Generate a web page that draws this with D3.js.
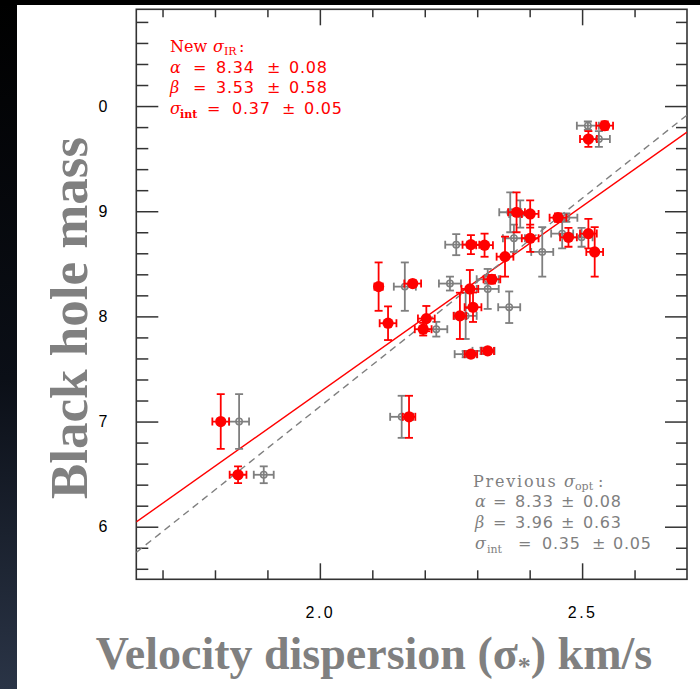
<!DOCTYPE html>
<html>
<head>
<meta charset="utf-8">
<script src="https://cdn.jsdelivr.net/npm/d3@7"></script>
<style>
  html, body { margin: 0; padding: 0; background: #fff; }
  svg { display: block; }
</style>
</head>
<body>
<svg id="chart" width="700" height="689"></svg>
<script>
// New infrared dispersions: log sigma, log M_BH and their errors
const irSigma    = [2.543, 2.512, 2.375, 2.401, 2.454, 2.401, 2.474, 2.512, 2.524, 2.288, 2.314, 2.353, 2.112, 2.177, 2.286, 2.328, 2.292, 2.267, 2.203, 2.197, 2.130, 2.288, 2.320, 2.170, 1.811, 1.844];
const irSigmaErr = [0.016, 0.016, 0.016, 0.016, 0.016, 0.016, 0.016, 0.016, 0.016, 0.016, 0.016, 0.016, 0.008, 0.016, 0.016, 0.016, 0.016, 0.012, 0.016, 0.016, 0.016, 0.012, 0.012, 0.012, 0.016, 0.016];
const irMass     = [9.813, 9.686, 8.990, 8.974, 8.939, 8.743, 8.752, 8.787, 8.613, 8.682, 8.677, 8.568, 8.283, 8.312, 8.261, 8.353, 8.087, 8.005, 7.979, 7.878, 7.935, 7.641, 7.672, 7.045, 7.000, 6.494];
const irMassErr  = [0.04, 0.075, 0.19, 0.13, 0.04, 0.13, 0.09, 0.14, 0.235, 0.09, 0.11, 0.19, 0.23, 0.03, 0.18, 0.04, 0.14, 0.22, 0.12, 0.06, 0.16, 0.03, 0.03, 0.20, 0.26, 0.08];

// Previous optical dispersions
const optSigma    = [2.511, 2.532, 2.363, 2.382, 2.470, 2.370, 2.462, 2.499, 2.424, 2.260, 2.162, 2.248, 2.320, 2.320, 2.361, 2.278, 2.222, 2.278, 2.312, 2.156, 1.846, 1.893];
const optSigmaErr = [0.021, 0.021, 0.021, 0.021, 0.021, 0.021, 0.021, 0.021, 0.021, 0.021, 0.021, 0.021, 0.021, 0.021, 0.021, 0.021, 0.021, 0.021, 0.021, 0.022, 0.019, 0.019];
const optMass     = [9.813, 9.686, 8.990, 8.974, 8.939, 8.743, 8.787, 8.752, 8.613, 8.682, 8.283, 8.312, 8.261, 8.353, 8.087, 8.005, 7.878, 7.641, 7.672, 7.045, 7.000, 6.494];
const optMassErr  = [0.04, 0.075, 0.19, 0.13, 0.04, 0.13, 0.14, 0.09, 0.235, 0.10, 0.23, 0.066, 0.19, 0.04, 0.15, 0.22, 0.07, 0.03, 0.03, 0.20, 0.26, 0.08];

// Fit parameters: log M = alpha + beta (log sigma - 2.3)
const fitNames  = ["new", "previous"];
const fitAlpha  = [8.34, 8.33];
const fitBeta   = [3.53, 3.96];
const fitPivot  = 2.3;

// Axis ticks
const xMajorTicks = [2.0, 2.5];
const xTickLabels = ["2.0", "2.5"];
const xMinorTicks = [1.7, 1.8, 1.9, 2.1, 2.2, 2.3, 2.4, 2.6];
const yMajorTicks = [6, 7, 8, 9, 10];
const yTickLabels = ["6", "7", "8", "9", "0"];
const yMinorTicks = [5.6, 5.8, 6.2, 6.4, 6.6, 6.8, 7.2, 7.4, 7.6, 7.8, 8.2, 8.4, 8.6, 8.8, 9.2, 9.4, 9.6, 9.8, 10.2, 10.4, 10.6, 10.8];

const RED = "#ff0000";
const GREY = "#7f7f7f";
const INK = "#333333";

const svg = d3.select("#chart");

// Page backdrop: dark strip on the left edge and along the top
const defs = svg.append("defs");
const grad = defs.append("linearGradient").attr("id", "edge").attr("x1", 0).attr("y1", 0).attr("x2", 0).attr("y2", 1);
grad.append("stop").attr("offset", "0%").attr("stop-color", "#000000");
grad.append("stop").attr("offset", "55%").attr("stop-color", "#0b0f17");
grad.append("stop").attr("offset", "100%").attr("stop-color", "#2a3446");
svg.append("rect").attr("x", 0).attr("y", 0).attr("width", 700).attr("height", 689).attr("fill", "#ffffff");
svg.append("rect").attr("x", 0).attr("y", 0).attr("width", 17).attr("height", 689).attr("fill", "url(#edge)");
svg.append("rect").attr("x", 0).attr("y", 0).attr("width", 700).attr("height", 5).attr("fill", "#000000");

// Plot frame
const frameL = 136.3, frameR = 687, frameT = 9.3, frameB = 579.3;
const x = d3.scaleLinear().domain([1.65, 2.70]).range([frameL, frameR]);
const y = d3.scaleLinear().domain([5.5, 10.92]).range([frameB, frameT]);

defs.append("clipPath").attr("id", "plotclip")
  .append("rect").attr("x", frameL).attr("y", frameT).attr("width", frameR - frameL).attr("height", frameB - frameT);

function styleAxis(g) {
  g.select(".domain").remove();
  g.selectAll(".tick line").attr("stroke", INK).attr("stroke-width", 1.5);
}

// Bottom axis (labelled) and minor ticks
svg.append("g").attr("transform", `translate(0,${frameB})`)
  .call(d3.axisBottom(x).tickValues(xMajorTicks).tickSizeInner(-16).tickSizeOuter(0).tickPadding(27)
    .tickFormat((d, i) => xTickLabels[i]))
  .call(styleAxis)
  .call(g => g.selectAll("text").attr("fill", "#000").attr("font-family", "Liberation Sans, Arial, sans-serif")
    .attr("font-size", 16).attr("letter-spacing", 2.5));
svg.append("g").attr("transform", `translate(0,${frameB})`)
  .call(d3.axisBottom(x).tickValues(xMinorTicks).tickSizeInner(-9).tickSizeOuter(0).tickFormat(""))
  .call(styleAxis);

// Top axis
svg.append("g").attr("transform", `translate(0,${frameT})`)
  .call(d3.axisTop(x).tickValues(xMajorTicks).tickSizeInner(-16).tickSizeOuter(0).tickFormat(""))
  .call(styleAxis);
svg.append("g").attr("transform", `translate(0,${frameT})`)
  .call(d3.axisTop(x).tickValues(xMinorTicks).tickSizeInner(-8).tickSizeOuter(0).tickFormat(""))
  .call(styleAxis);

// Left axis (labelled)
svg.append("g").attr("transform", `translate(${frameL},0)`)
  .call(d3.axisLeft(y).tickValues(yMajorTicks).tickSizeInner(-22).tickSizeOuter(0).tickPadding(29)
    .tickFormat((d, i) => yTickLabels[i]))
  .call(styleAxis)
  .call(g => g.selectAll("text").attr("fill", "#000").attr("font-family", "Liberation Sans, Arial, sans-serif")
    .attr("font-size", 16));
svg.append("g").attr("transform", `translate(${frameL},0)`)
  .call(d3.axisLeft(y).tickValues(yMinorTicks).tickSizeInner(-12).tickSizeOuter(0).tickFormat(""))
  .call(styleAxis);

// Right axis
svg.append("g").attr("transform", `translate(${frameR},0)`)
  .call(d3.axisRight(y).tickValues(yMajorTicks).tickSizeInner(-22).tickSizeOuter(0).tickFormat(""))
  .call(styleAxis);
svg.append("g").attr("transform", `translate(${frameR},0)`)
  .call(d3.axisRight(y).tickValues(yMinorTicks).tickSizeInner(-11).tickSizeOuter(0).tickFormat(""))
  .call(styleAxis);

svg.append("rect").attr("x", frameL).attr("y", frameT).attr("width", frameR - frameL).attr("height", frameB - frameT)
  .attr("fill", "none").attr("stroke", INK).attr("stroke-width", 1.6);

// Fit lines
const plot = svg.append("g").attr("clip-path", "url(#plotclip)");
const fitLine = d3.line().x(d => x(d[0])).y(d => y(d[1]));
fitNames.forEach((name, i) => {
  const xs = x.domain();
  const pts = xs.map(v => [v, fitAlpha[i] + fitBeta[i] * (v - fitPivot)]);
  plot.append("path").attr("d", fitLine(pts)).attr("fill", "none")
    .attr("stroke", name === "new" ? RED : GREY)
    .attr("stroke-width", 1.4)
    .attr("stroke-dasharray", name === "new" ? null : "7,5");
});

// Error-bar drawing helper
function drawSeries(sig, sigErr, mass, massErr, color, cap, width) {
  const g = plot.append("g").attr("stroke", color).attr("stroke-width", width).attr("fill", "none");
  sig.forEach((s, i) => {
    const cx = x(s), cy = y(mass[i]);
    const x0 = x(s - sigErr[i]), x1 = x(s + sigErr[i]);
    const y0 = y(mass[i] - massErr[i]), y1 = y(mass[i] + massErr[i]);
    g.append("line").attr("x1", x0).attr("x2", x1).attr("y1", cy).attr("y2", cy);
    g.append("line").attr("x1", x0).attr("x2", x0).attr("y1", cy - cap).attr("y2", cy + cap);
    g.append("line").attr("x1", x1).attr("x2", x1).attr("y1", cy - cap).attr("y2", cy + cap);
    g.append("line").attr("x1", cx).attr("x2", cx).attr("y1", y0).attr("y2", y1);
    g.append("line").attr("x1", cx - cap).attr("x2", cx + cap).attr("y1", y0).attr("y2", y0);
    g.append("line").attr("x1", cx - cap).attr("x2", cx + cap).attr("y1", y1).attr("y2", y1);
  });
  return g;
}

// Previous optical points: open circles
drawSeries(optSigma, optSigmaErr, optMass, optMassErr, GREY, 4, 1.8);
plot.append("g").selectAll("circle").data(optSigma).join("circle")
  .attr("cx", d => x(d)).attr("cy", (d, i) => y(optMass[i])).attr("r", 3.2)
  .attr("fill", "none").attr("stroke", GREY).attr("stroke-width", 1.5);

// New infrared points: filled red dots
drawSeries(irSigma, irSigmaErr, irMass, irMassErr, RED, 4, 1.8);
plot.append("g").selectAll("circle").data(irSigma).join("circle")
  .attr("cx", d => x(d)).attr("cy", (d, i) => y(irMass[i])).attr("r", 5.6)
  .attr("fill", RED);

// Fit annotations
function token(parent, str, xPos, opts = {}) {
  const t = parent.append("tspan").attr("x", xPos).text(str);
  if (opts.family) t.attr("font-family", opts.family);
  if (opts.size) t.attr("font-size", opts.size);
  if (opts.italic) t.attr("font-style", "italic");
  if (opts.bold) t.attr("font-weight", "bold");
  if (opts.dy) t.attr("dy", opts.dy);
  if (opts.ls) t.attr("letter-spacing", opts.ls);
  return t;
}
const SERIF = "DejaVu Serif, serif";
const SANS = "DejaVu Sans, sans-serif";

function fitBlock(color, baselines, xs, head, headLs, sub, subBold, a, b, s) {
  const g = svg.append("g").attr("fill", color).attr("font-size", 16);
  // heading line
  let t = g.append("text").attr("y", baselines[0]);
  token(t, head, xs.head, { family: SERIF, ls: headLs });
  token(t, "σ", xs.headSigma, { family: SERIF, italic: true });
  token(t, sub, xs.headSub, { family: SERIF, size: 11, dy: 3, bold: false });
  token(t, ":", xs.headColon, { family: SERIF, dy: -3 });
  const rows = [["α", a], ["β", b]];
  rows.forEach((r, k) => {
    const tt = g.append("text").attr("y", baselines[k + 1]);
    token(tt, r[0], xs.sym, { family: SERIF, italic: true });
    token(tt, "=", xs.eq, { family: SANS });
    token(tt, r[1][0], xs.val, { family: SANS, ls: 0.8 });
    token(tt, "±", xs.pm, { family: SANS });
    token(tt, r[1][1], xs.err, { family: SANS, ls: 0.8 });
  });
  const tl = g.append("text").attr("y", baselines[3]);
  token(tl, "σ", xs.sym, { family: SERIF, italic: true });
  token(tl, "int", xs.intSub, { family: SERIF, size: 11, dy: 4, bold: subBold });
  token(tl, "=", xs.intEq, { family: SANS, dy: -4 });
  token(tl, s[0], xs.intVal, { family: SANS, ls: 0.8 });
  token(tl, "±", xs.intPm, { family: SANS });
  token(tl, s[1], xs.intErr, { family: SANS, ls: 0.8 });
}

fitBlock(RED, [51.7, 73.3, 93.3, 114],
  { head: 170, headSigma: 213, headSub: 224, headColon: 239, sym: 170, eq: 193, val: 216, pm: 267, err: 289,
    intSub: 180, intEq: 207, intVal: 232, intPm: 282, intErr: 304 },
  "New", 0, "IR", true, ["8.34", "0.08"], ["3.53", "0.58"], ["0.37", "0.05"]);

fitBlock(GREY, [487, 507, 528, 549],
  { head: 473, headSigma: 564, headSub: 575, headColon: 598, sym: 475, eq: 493, val: 515, pm: 561, err: 583,
    intSub: 487, intEq: 518, intVal: 542, intPm: 592, intErr: 613 },
  "Previous", 1.8, "opt", false, ["8.33", "0.08"], ["3.96", "0.63"], ["0.35", "0.05"]);

// Axis titles
const TITLE = "Liberation Serif, Times New Roman, serif";
svg.append("text")
  .attr("transform", "translate(87,318) rotate(-90)")
  .attr("text-anchor", "middle")
  .attr("font-family", TITLE).attr("font-weight", "bold").attr("font-size", 53)
  .attr("fill", "#808080")
  .text("Black hole mass");

const xt = svg.append("text")
  .attr("x", 374).attr("y", 669)
  .attr("text-anchor", "middle")
  .attr("font-family", TITLE).attr("font-weight", "bold").attr("font-size", 46)
  .attr("fill", "#808080");
xt.append("tspan").text("Velocity dispersion (σ");
xt.append("tspan").attr("font-size", 26).attr("dy", 6).text("*");
xt.append("tspan").attr("dy", -6).text(") km/s");
</script>
</body>
</html>
